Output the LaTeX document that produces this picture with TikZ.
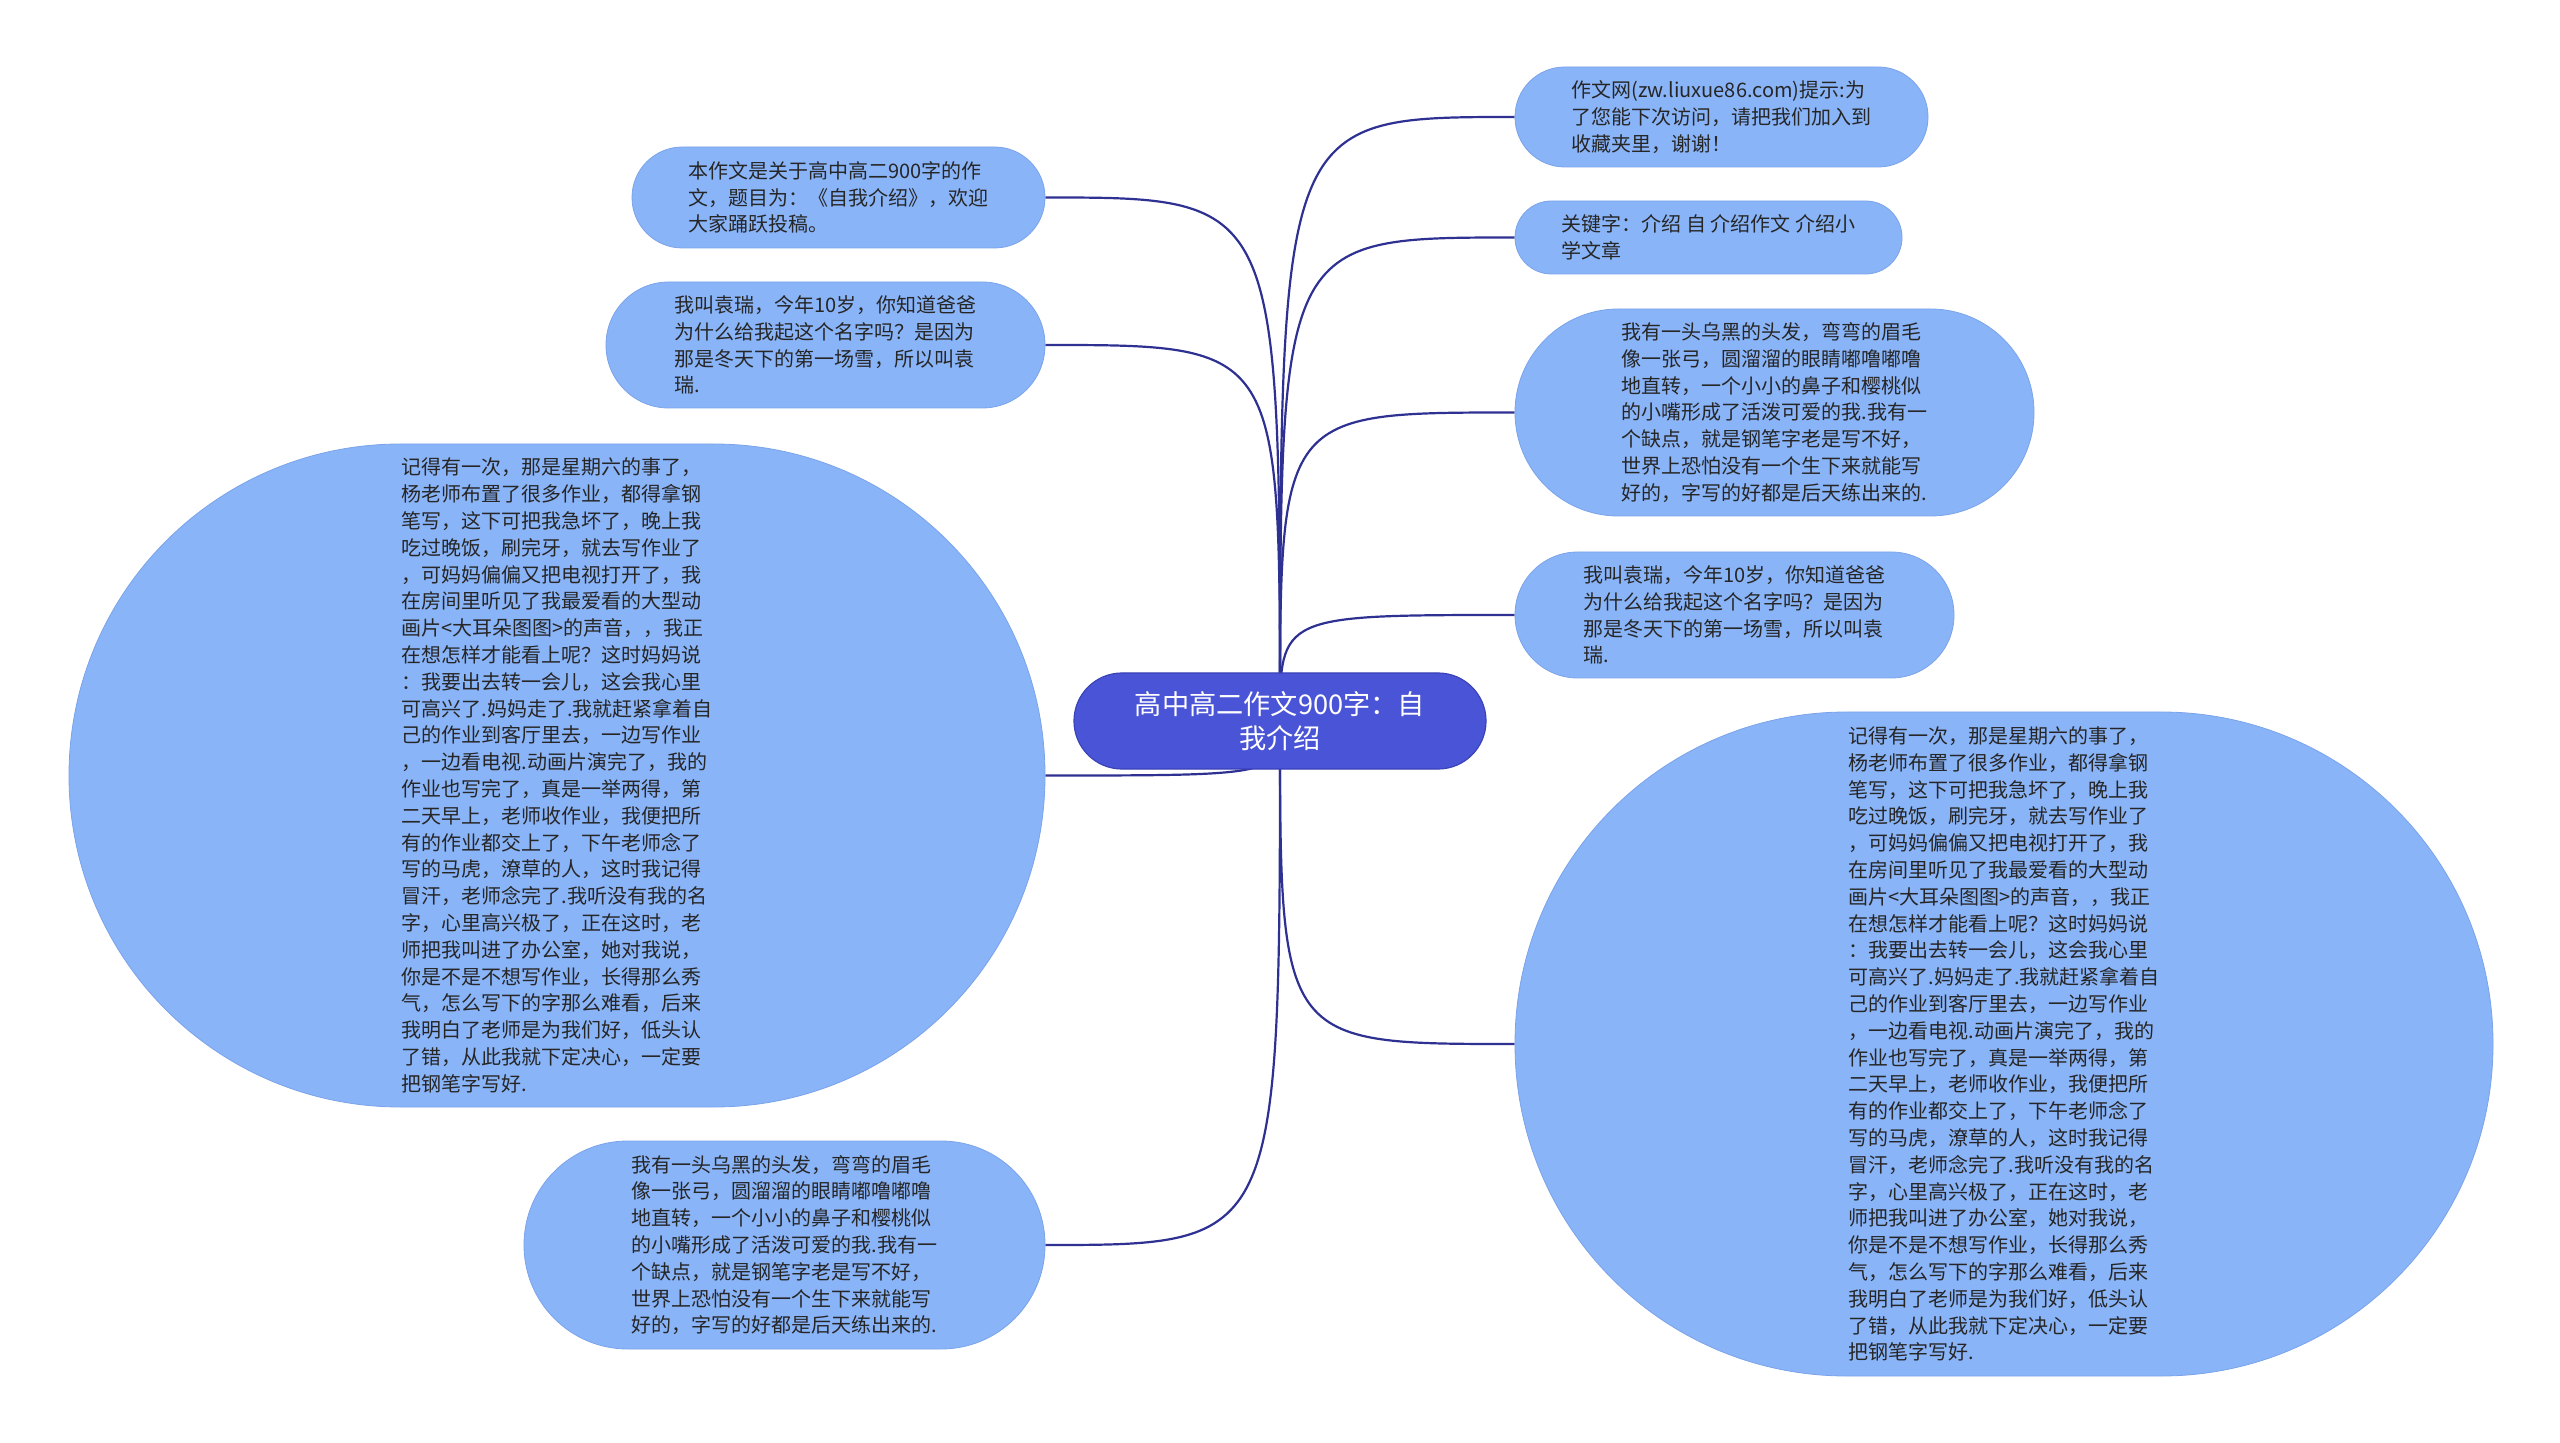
\documentclass[tikz,border=0pt]{standalone}
\usepackage{fontspec}
\newfontfamily\cjk{Noto Sans CJK SC}
\usetikzlibrary{calc}
\definecolor{leaf}{HTML}{8AB4F8}
\definecolor{leafdraw}{HTML}{7AA3EA}
\definecolor{rootfill}{HTML}{4A54D6}
\definecolor{rootdraw}{HTML}{3A43B8}
\definecolor{edgecol}{HTML}{2E3192}
\definecolor{txt}{HTML}{262626}
\pgfdeclarelayer{bg}
\pgfdeclarelayer{edges}
\pgfsetlayers{bg,edges,main}
\begin{document}
\begin{tikzpicture}[x=0.5pt,y=-0.5pt,
  leafnode/.style={draw=leafdraw, line width=0.4pt, fill=leaf, text=txt,
    align=left, inner sep=0pt, font=\cjk\fontsize{10pt}{13.4pt}\selectfont},
  rootnode/.style={draw=rootdraw, line width=0.6pt, fill=rootfill, text=white,
    align=center, inner sep=0pt, font=\cjk\fontsize{13.6pt}{17pt}\selectfont},
  pill/.style n args={3}{minimum width=#1pt, minimum height=#2pt, rounded corners=#3pt},
  edgeline/.style={draw=edgecol, line width=1.1pt}]
\begin{pgfonlayer}{bg}
  \fill[white] (0,0) rectangle (2560,1443);
\end{pgfonlayer}
\useasboundingbox (0,0) rectangle (2560,1443);

\node[rootnode, pill={206}{48}{23.99}] (root) at (1280,721)
  {高中高二作文900字：自\\我介绍};

\node[leafnode, pill={206.5}{50.5}{25.2}] (A) at (838.5,197.5)
  {本作文是关于高中高二900字的作\\文，题目为：《自我介绍》，欢迎\\大家踊跃投稿。};

\node[leafnode, pill={219.5}{63}{31.4}] (B) at (825.5,345)
  {我叫袁瑞，今年10岁，你知道爸爸\\为什么给我起这个名字吗？是因为\\那是冬天下的第一场雪，所以叫袁\\瑞.};

\node[leafnode, pill={488}{331.5}{165.7}] (C) at (557,775.5)
  {记得有一次，那是星期六的事了，\\杨老师布置了很多作业，都得拿钢\\笔写，这下可把我急坏了，晚上我\\吃过晚饭，刷完牙，就去写作业了\\，可妈妈偏偏又把电视打开了，我\\在房间里听见了我最爱看的大型动\\画片<大耳朵图图>的声音，，我正\\在想怎样才能看上呢？这时妈妈说\\：我要出去转一会儿，这会我心里\\可高兴了.妈妈走了.我就赶紧拿着自\\己的作业到客厅里去，一边写作业\\，一边看电视.动画片演完了，我的\\作业也写完了，真是一举两得，第\\二天早上，老师收作业，我便把所\\有的作业都交上了，下午老师念了\\写的马虎，潦草的人，这时我记得\\冒汗，老师念完了.我听没有我的名\\字，心里高兴极了，正在这时，老\\师把我叫进了办公室，她对我说，\\你是不是不想写作业，长得那么秀\\气，怎么写下的字那么难看，后来\\我明白了老师是为我们好，低头认\\了错，从此我就下定决心，一定要\\把钢笔字写好.};

\node[leafnode, pill={260.5}{104}{51.9}] (D) at (784.5,1245)
  {我有一头乌黑的头发，弯弯的眉毛\\像一张弓，圆溜溜的眼睛嘟噜嘟噜\\地直转，一个小小的鼻子和樱桃似\\的小嘴形成了活泼可爱的我.我有一\\个缺点，就是钢笔字老是写不好，\\世界上恐怕没有一个生下来就能写\\好的，字写的好都是后天练出来的.};

\node[leafnode, pill={206.5}{50}{24.9}] (E) at (1721.5,117)
  {作文网(zw.liuxue86.com)提示:为\\了您能下次访问，请把我们加入到\\收藏夹里，谢谢！};

\node[leafnode, pill={193.5}{36.5}{18.2}] (F) at (1708.5,237.5)
  {关键字：介绍 自 介绍作文 介绍小\\学文章};

\node[leafnode, pill={259.5}{103.5}{51.7}] (G) at (1774.5,412.5)
  {我有一头乌黑的头发，弯弯的眉毛\\像一张弓，圆溜溜的眼睛嘟噜嘟噜\\地直转，一个小小的鼻子和樱桃似\\的小嘴形成了活泼可爱的我.我有一\\个缺点，就是钢笔字老是写不好，\\世界上恐怕没有一个生下来就能写\\好的，字写的好都是后天练出来的.};

\node[leafnode, pill={219.5}{63}{31.4}] (H) at (1734.5,615)
  {我叫袁瑞，今年10岁，你知道爸爸\\为什么给我起这个名字吗？是因为\\那是冬天下的第一场雪，所以叫袁\\瑞.};

\node[leafnode, pill={489}{332}{165.9}] (I) at (2004,1044)
  {记得有一次，那是星期六的事了，\\杨老师布置了很多作业，都得拿钢\\笔写，这下可把我急坏了，晚上我\\吃过晚饭，刷完牙，就去写作业了\\，可妈妈偏偏又把电视打开了，我\\在房间里听见了我最爱看的大型动\\画片<大耳朵图图>的声音，，我正\\在想怎样才能看上呢？这时妈妈说\\：我要出去转一会儿，这会我心里\\可高兴了.妈妈走了.我就赶紧拿着自\\己的作业到客厅里去，一边写作业\\，一边看电视.动画片演完了，我的\\作业也写完了，真是一举两得，第\\二天早上，老师收作业，我便把所\\有的作业都交上了，下午老师念了\\写的马虎，潦草的人，这时我记得\\冒汗，老师念完了.我听没有我的名\\字，心里高兴极了，正在这时，老\\师把我叫进了办公室，她对我说，\\你是不是不想写作业，长得那么秀\\气，怎么写下的字那么难看，后来\\我明白了老师是为我们好，低头认\\了错，从此我就下定决心，一定要\\把钢笔字写好.};

\begin{pgfonlayer}{edges}
  \foreach \n in {A,B,C,D}
    \draw[edgeline] (root.center) .. controls (root.center |- \n.east) .. (\n.east);
  \foreach \n in {E,F,G,H,I}
    \draw[edgeline] (root.center) .. controls (root.center |- \n.west) .. (\n.west);
\end{pgfonlayer}
\end{tikzpicture}
\end{document}
